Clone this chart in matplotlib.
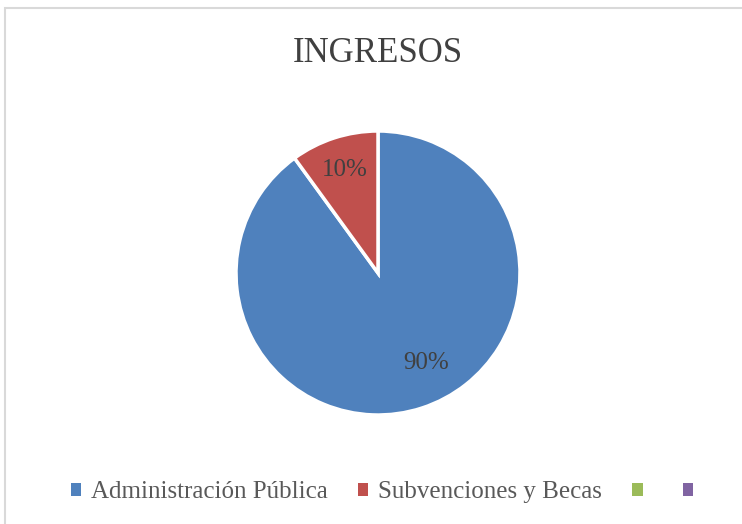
import numpy as np
import matplotlib.pyplot as plt
from matplotlib.patches import Patch

# data
categorias = ["Administración Pública", "Subvenciones y Becas", "", ""]
valores = [90, 10, 0, 0]
colores = ["#4F81BD", "#C0504D", "#9BBB59", "#8064A2"]
titulo = "INGRESOS"

plt.rcParams['font.family'] = ['Liberation Serif', 'DejaVu Serif']

fig = plt.figure(figsize=(7.42, 5.24), dpi=100)

# chart border
fig.patches.append(plt.Rectangle((5/742, -0.1), 1.0, (524-8)/524 + 0.1,
                                  transform=fig.transFigure, fill=False,
                                  edgecolor="#d9d9d9", linewidth=1.5))

ax = fig.add_axes([(378-142)/742, (524-415)/524, 284/742, 284/524])
vals = [v for v in valores if v > 0]
cols = [c for v, c in zip(valores, colores) if v > 0]
wedges, texts = ax.pie(vals, colors=cols, startangle=90, counterclock=False,
                       wedgeprops=dict(edgecolor="white", linewidth=2.5))
ax.set_xlim(-1.0, 1.0)
ax.set_ylim(-1.0, 1.0)
ax.set_aspect('equal')

total = sum(vals)
for v, w in zip(vals, wedges):
    mid = np.deg2rad((w.theta1 + w.theta2) / 2)
    if v > 50:
        mid = np.deg2rad(-62)
        r = 0.72
    else:
        r = 0.76
    ax.text(r*np.cos(mid), r*np.sin(mid), "{:.0f}%".format(100*v/total),
            ha="center", va="center", fontsize=18, color="#404040")

fig.text(378/742, 1 - 53/524, titulo, ha="center", va="center",
         fontsize=25, color="#404040")

handles = [Patch(facecolor=c, edgecolor="none") for c in colores]
fig.legend(handles, categorias, loc="center", bbox_to_anchor=(387/742, 1 - 492/524),
           ncol=4, frameon=False, fontsize=18, handlelength=0.42, handleheight=0.42,
           handletextpad=0.4, columnspacing=1.2, labelcolor="#595959")

fig.savefig("out.png", dpi=100)
